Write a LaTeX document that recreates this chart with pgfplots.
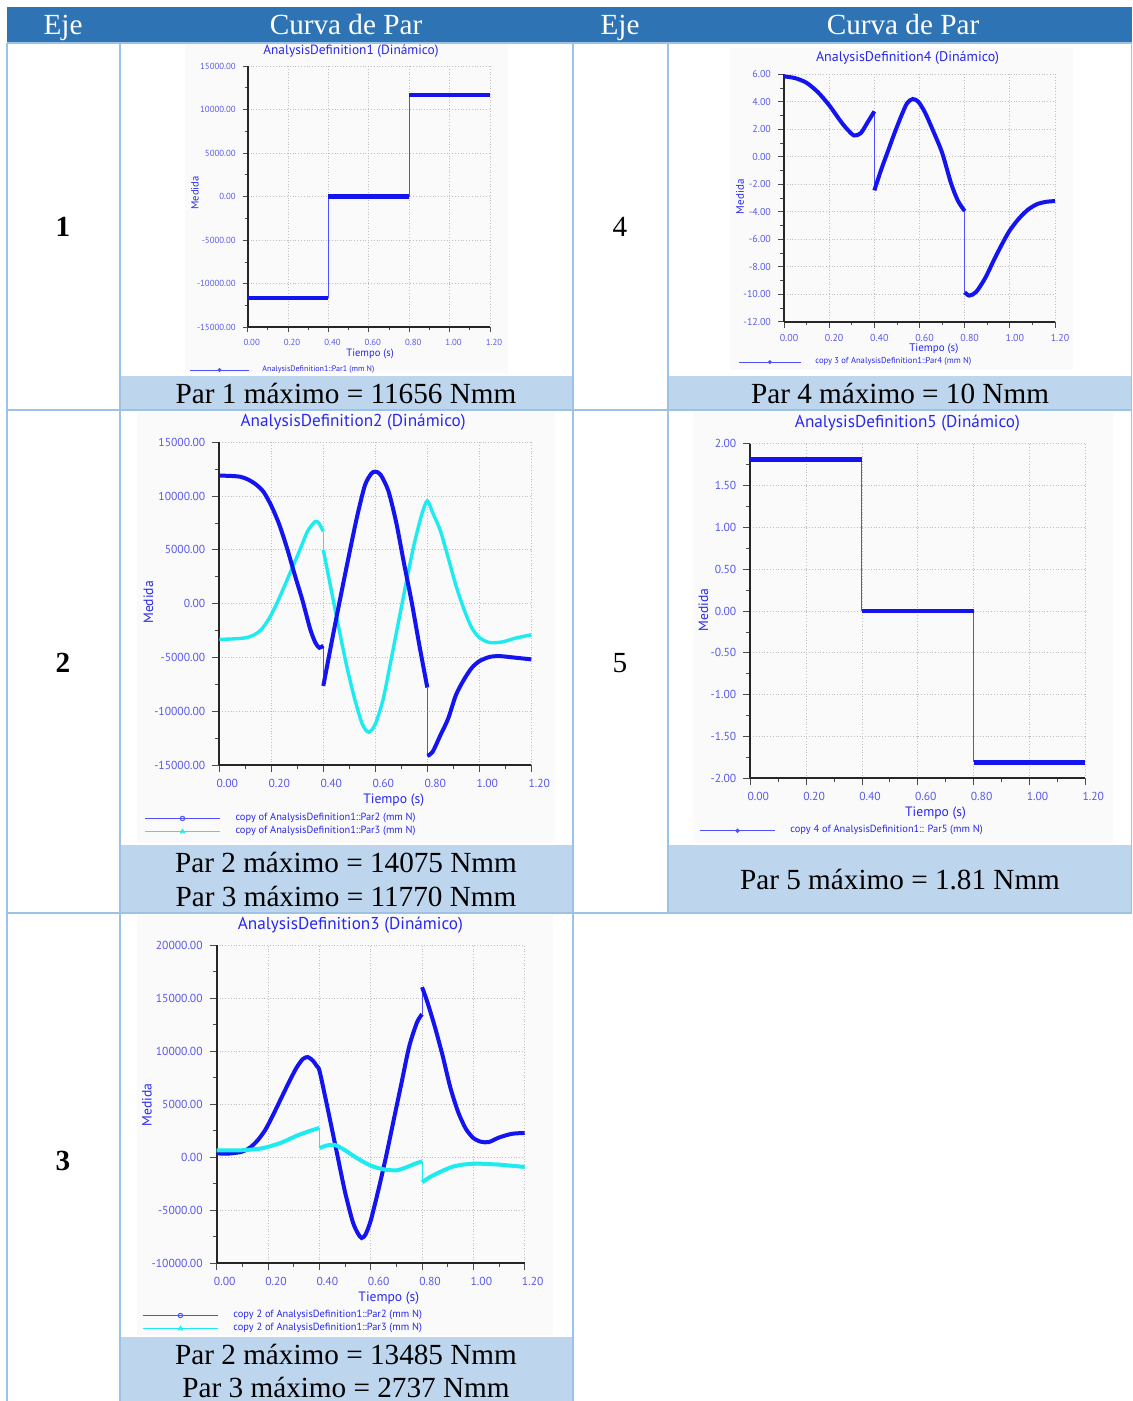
\documentclass[border=0pt]{standalone}
\usepackage{fontspec}
\setmainfont{Liberation Serif}
\newfontfamily\cf{PT Sans}
\usepackage{pgfplots}
\pgfplotsset{compat=1.18}
\definecolor{hdr}{HTML}{2E74B5}
\definecolor{capc}{HTML}{BDD6EE}
\definecolor{bord}{HTML}{9CC2E5}
\definecolor{pblue}{RGB}{20,20,240}
\definecolor{pthin}{RGB}{80,80,255}
\definecolor{pcyan}{RGB}{30,235,240}
\definecolor{titc}{RGB}{40,40,240}
\definecolor{tickc}{RGB}{90,90,235}
\definecolor{chbg}{RGB}{250,250,250}
\pgfplotsset{
  chart/.style={
    scale only axis, clip=false,
    axis lines*=left,
    axis line style={line width=0.9pt, black!85},
    tick align=outside,
    major tick length=3.5pt, minor tick length=2pt,
    tick style={black!70, line width=0.4pt},
    grid=major,
    major grid style={densely dotted, black!25, line width=0.4pt},
    xmin=0, xmax=1.2, xtick={0,0.2,0.4,0.6,0.8,1.0,1.2},
    minor x tick num=1, minor y tick num=1,
    scaled ticks=false,
    /pgf/number format/fixed, /pgf/number format/fixed zerofill,
    /pgf/number format/precision=2, /pgf/number format/1000 sep={},
    /pgf/number format/assume math mode=true,
    tick label style={text=tickc},
    every axis title/.style={text=titc, anchor=center},
    label style={text=titc},
    xlabel={Tiempo (s)}, ylabel={Medida},
    legend cell align=left,
    legend style={draw=none, fill=none, text=titc, inner sep=0pt, row sep=-2.6pt, anchor=north west},
  },
  big/.style={
    title style={font=\cf\fontsize{8.6}{10}\selectfont},
    tick label style={font=\cf\fontsize{5.8}{7}\selectfont},
    xticklabel style={xshift=4pt},
    label style={font=\cf\fontsize{6.8}{8}\selectfont},
    legend style={font=\cf\fontsize{5.2}{6.5}\selectfont},
    legend image code/.code={\draw[##1,mark repeat=2,mark phase=2] plot coordinates {(0pt,0pt)(18.75pt,0pt)(37.5pt,0pt)}; \path (43pt,0pt);},
  },
  thk/.style={pblue, line width=2.2pt, forget plot},
  thn/.style={pthin, line width=0.5pt, forget plot},
  cur/.style={pblue, line width=2pt, smooth, tension=0.45, forget plot},
  cyc/.style={pcyan, line width=1.7pt, smooth, tension=0.45, forget plot},
}
\begin{document}
\begin{tikzpicture}
\begin{scope}[x=0.5pt,y=-0.5pt]
\path[use as bounding box] (0,0) rectangle (1132,1401);
\fill[white] (0,0) rectangle (1132,1401);
% header
\fill[hdr] (7,7) rectangle (1132,43);
% caption bands
\fill[capc] (120,376) rectangle (573,410);
\fill[capc] (668,376) rectangle (1132,410);
\fill[capc] (120,845) rectangle (573,913);
\fill[capc] (668,845) rectangle (1132,913);
\fill[capc] (120,1337) rectangle (573,1401);
% chart backgrounds
\fill[chbg] (185,43) rectangle (508,373);
\fill[chbg] (730,48) rectangle (1073,370);
\fill[chbg] (137,412) rectangle (555,843);
\fill[chbg] (693,412) rectangle (1113,843);
\fill[chbg] (137,915) rectangle (553,1335);
% borders
\draw[bord, line width=0.9pt] (7,43) -- (7,1401);
\draw[bord, line width=0.9pt] (120,43) -- (120,1401);
\draw[bord, line width=0.9pt] (573,43) -- (573,1401);
\draw[bord, line width=0.9pt] (668,43) -- (668,913);
\draw[bord, line width=0.9pt] (1131.5,43) -- (1131.5,913);
\draw[bord, line width=0.9pt] (7,43) -- (1132,43);
\draw[bord, line width=0.9pt] (7,410) -- (1132,410);
\draw[bord, line width=0.9pt] (7,913) -- (1132,913);
% header text
\begin{scope}[every node/.style={text=white, font=\fontsize{14.6}{16}\selectfont, anchor=base, inner sep=0pt}]
\node at (63,35) {Eje};
\node at (346,35) {Curva de Par};
\node at (620,35) {Eje};
\node at (903,35) {Curva de Par};
\end{scope}
\begin{scope}[every node/.style={text=black, font=\fontsize{14.6}{16}\selectfont, anchor=base, inner sep=0pt}]
\node at (63,237) {\bfseries 1};
\node at (620,237) {4};
\node at (63,672) {\bfseries 2};
\node at (620,672) {5};
\node at (63,1170) {\bfseries 3};
\node at (346,403) {Par 1 máximo = 11656 Nmm};
\node at (900,403) {Par 4 máximo = 10 Nmm};
\node at (346,872) {Par 2 máximo = 14075 Nmm};
\node at (346,906) {Par 3 máximo = 11770 Nmm};
\node at (900,889) {Par 5 máximo = 1.81 Nmm};
\node at (346,1364) {Par 2 máximo = 13485 Nmm};
\node at (346,1397) {Par 3 máximo = 2737 Nmm};
\end{scope}
\end{scope}

% ---------- Chart 1 ----------
\begin{axis}[chart,
  at={(123.85pt,-163.65pt)}, anchor=south west,
  width=121.15pt, height=130.65pt,
  ymin=-15000, ymax=15000, ytick={-15000,-10000,-5000,0,5000,10000,15000},
  title={AnalysisDefinition1 (Dinámico)},
  title style={at={(axis description cs:0.426,1.055)}, anchor=center, font=\cf\fontsize{6.7}{8}\selectfont},
  tick label style={font=\cf\fontsize{4.4}{5}\selectfont},
  xticklabel style={xshift=2pt},
  label style={font=\cf\fontsize{5.3}{6}\selectfont},
  xlabel style={at={(axis description cs:0.505,-0.102)}, anchor=center},
  ylabel style={at={(axis description cs:-0.2175,0.514)}, anchor=center},
  major tick length=2.5pt, minor tick length=1.5pt,
  legend style={font=\cf\fontsize{4}{5}\selectfont, at={(axis description cs:-0.242,-0.13)}},
  legend image code/.code={\draw[#1,mark repeat=2,mark phase=2] plot coordinates {(0pt,0pt)(14.75pt,0pt)(29.5pt,0pt)}; \path (34pt,0pt);},
]
\addplot[thn] coordinates {(0.4,-11656)(0.4,0)};
\addplot[thn] coordinates {(0.8,0)(0.8,11656)};
\addplot[thk] coordinates {(0,-11656)(0.4,-11656)};
\addplot[thk] coordinates {(0.4,0)(0.8,0)};
\addplot[thk] coordinates {(0.8,11656)(1.2,11656)};
\addlegendimage{pthin, line width=0.5pt, mark=*, mark size=0.7pt}
\addlegendentry{AnalysisDefinition1::Par1 (mm N)}
\end{axis}

% ---------- Chart 4 ----------
\begin{axis}[chart,
  at={(392pt,-160.85pt)}, anchor=south west,
  width=135.5pt, height=123.7pt,
  ymin=-12, ymax=6, ytick={-12,-10,-8,-6,-4,-2,0,2,4,6},
  title={AnalysisDefinition4 (Dinámico)},
  title style={at={(axis description cs:0.456,1.067)}, anchor=center, font=\cf\fontsize{7}{8}\selectfont},
  tick label style={font=\cf\fontsize{5}{6}\selectfont},
  xticklabel style={xshift=2.5pt},
  label style={font=\cf\fontsize{5.5}{6.5}\selectfont},
  xlabel style={at={(axis description cs:0.553,-0.110)}, anchor=center},
  ylabel style={at={(axis description cs:-0.162,0.505)}, anchor=center},
  major tick length=3pt, minor tick length=1.8pt,
  legend style={font=\cf\fontsize{4.3}{5.2}\selectfont, at={(axis description cs:-0.170,-0.127)}},
  legend image code/.code={\draw[#1,mark repeat=2,mark phase=2] plot coordinates {(0pt,0pt)(15.5pt,0pt)(31pt,0pt)}; \path (36pt,0pt);},
]
\addplot[thn] coordinates {(0.4,3.3)(0.4,-2.45)};
\addplot[thn] coordinates {(0.8,-3.95)(0.8,-9.85)};
\addplot[cur] coordinates {(0,5.85)(0.05,5.72)(0.1,5.38)(0.15,4.7)(0.2,3.75)(0.25,2.6)(0.28,2.0)(0.31,1.55)(0.34,1.72)(0.37,2.5)(0.4,3.3)};
\addplot[cur] coordinates {(0.4,-2.45)(0.43,-0.95)(0.46,0.4)(0.49,1.75)(0.52,3.0)(0.545,3.9)(0.57,4.2)(0.595,4.0)(0.625,3.2)(0.66,1.9)(0.7,0.3)(0.74,-1.95)(0.77,-3.2)(0.8,-3.95)};
\addplot[cur] coordinates {(0.8,-9.85)(0.82,-10.1)(0.85,-9.85)(0.89,-8.85)(0.93,-7.5)(0.964,-6.4)(1.0,-5.35)(1.04,-4.5)(1.08,-3.85)(1.12,-3.45)(1.16,-3.28)(1.2,-3.22)};
\addlegendimage{pthin, line width=0.5pt, mark=*, mark size=0.7pt}
\addlegendentry{copy 3 of AnalysisDefinition1::Par4 (mm N)}
\end{axis}

% ---------- Chart 2 ----------
\begin{axis}[chart, big,
  at={(109.65pt,-382.5pt)}, anchor=south west,
  width=156pt, height=161.35pt,
  ymin=-15000, ymax=15000, ytick={-15000,-10000,-5000,0,5000,10000,15000},
  title={AnalysisDefinition2 (Dinámico)},
  title style={at={(axis description cs:0.429,1.063)}, anchor=center},
  xlabel style={at={(axis description cs:0.559,-0.108)}, anchor=center},
  ylabel style={at={(axis description cs:-0.2276,0.504)}, anchor=center},
  legend style={at={(axis description cs:-0.241,-0.136)}},
]
\addplot[thn] coordinates {(0.4,-3900)(0.4,-7650)};
\addplot[thn] coordinates {(0.8,-7800)(0.8,-14150)};
\addplot[thn, pcyan] coordinates {(0.4,6700)(0.4,5000)};
\addplot[cyc] coordinates {(0,-3320)(0.05,-3280)(0.1,-3180)(0.13,-2950)(0.16,-2450)(0.19,-1450)(0.22,-40)(0.25,1600)(0.28,3300)(0.31,5000)(0.34,6750)(0.37,7650)(0.385,7400)(0.4,6700)};
\addplot[cyc] coordinates {(0.4,5000)(0.43,1350)(0.46,-2300)(0.49,-5800)(0.52,-8800)(0.55,-11200)(0.575,-11950)(0.6,-11200)(0.63,-8900)(0.66,-5300)(0.69,-1600)(0.72,2100)(0.75,5600)(0.78,8400)(0.8,9550)(0.82,8500)(0.85,6800)(0.88,4300)(0.91,1700)(0.94,-450)(0.97,-2200)(1.0,-3150)(1.04,-3620)(1.09,-3550)(1.14,-3200)(1.2,-2900)};
\addplot[cur] coordinates {(0,11900)(0.04,11880)(0.08,11800)(0.11,11550)(0.14,11100)(0.17,10400)(0.2,9100)(0.23,7400)(0.26,5200)(0.29,2700)(0.32,300)(0.35,-2400)(0.37,-3650)(0.385,-4100)(0.4,-3900)};
\addplot[cur] coordinates {(0.4,-7650)(0.43,-3850)(0.46,-130)(0.5,4650)(0.53,8100)(0.56,11000)(0.585,12100)(0.6,12270)(0.62,12000)(0.65,10500)(0.68,7600)(0.71,3800)(0.74,140)(0.77,-3940)(0.8,-7800)};
\addplot[cur] coordinates {(0.8,-14150)(0.82,-13800)(0.85,-12250)(0.88,-10700)(0.91,-8500)(0.94,-7100)(0.97,-6000)(1.0,-5350)(1.04,-4950)(1.08,-4880)(1.13,-5000)(1.2,-5180)};
\addlegendimage{pthin, line width=0.5pt, mark=o, mark size=1.1pt}
\addlegendentry{copy of AnalysisDefinition1::Par2 (mm N)}
\addlegendimage{pcyan, line width=0.5pt, mark=triangle, mark size=1.2pt}
\addlegendentry{copy of AnalysisDefinition1::Par3 (mm N)}
\end{axis}

% ---------- Chart 5 ----------
\begin{axis}[chart, big,
  at={(375.15pt,-389.15pt)}, anchor=south west,
  width=167.5pt, height=167.3pt,
  ymin=-2, ymax=2, ytick={-2,-1.5,-1,-0.5,0,0.5,1,1.5,2},
  title={AnalysisDefinition5 (Dinámico)},
  title style={at={(axis description cs:0.469,1.062)}, anchor=center},
  xlabel style={at={(axis description cs:0.553,-0.104)}, anchor=center},
  ylabel style={at={(axis description cs:-0.140,0.503)}, anchor=center},
  legend style={at={(axis description cs:-0.153,-0.128)}},
]
\addplot[thn] coordinates {(0.4,1.81)(0.4,0)};
\addplot[thn] coordinates {(0.8,0)(0.8,-1.81)};
\addplot[thk] coordinates {(0,1.81)(0.4,1.81)};
\addplot[thk] coordinates {(0.4,0)(0.8,0)};
\addplot[thk] coordinates {(0.8,-1.81)(1.2,-1.81)};
\addlegendimage{pthin, line width=0.5pt, mark=*, mark size=0.8pt}
\addlegendentry{copy 4 of AnalysisDefinition1:: Par5 (mm N)}
\end{axis}

% ---------- Chart 3 ----------
\begin{axis}[chart, big,
  at={(108.35pt,-631.5pt)}, anchor=south west,
  width=154pt, height=158.85pt,
  ymin=-10000, ymax=20000, ytick={-10000,-5000,0,5000,10000,15000,20000},
  title={AnalysisDefinition3 (Dinámico)},
  title style={at={(axis description cs:0.434,1.062)}, anchor=center},
  xlabel style={at={(axis description cs:0.559,-0.110)}, anchor=center},
  ylabel style={at={(axis description cs:-0.227,0.498)}, anchor=center},
  legend style={at={(axis description cs:-0.2425,-0.135)}},
]
\addplot[thn] coordinates {(0.8,13500)(0.8,16050)};
\addplot[thn, pcyan] coordinates {(0.4,2750)(0.4,860)};
\addplot[thn, pcyan] coordinates {(0.8,-400)(0.8,-2380)};
\addplot[cur] coordinates {(0,350)(0.05,340)(0.1,520)(0.13,900)(0.16,1600)(0.19,2600)(0.22,4000)(0.25,5500)(0.28,7000)(0.31,8400)(0.335,9250)(0.355,9450)(0.375,9100)(0.39,8600)(0.4,8200)(0.42,6000)(0.44,3700)(0.47,200)(0.5,-3300)(0.53,-6100)(0.55,-7200)(0.565,-7640)(0.58,-7300)(0.6,-6000)(0.63,-3100)(0.66,80)(0.69,3550)(0.72,7000)(0.75,10450)(0.78,12700)(0.8,13500)};
\addplot[cur] coordinates {(0.8,16050)(0.82,14700)(0.85,12300)(0.88,9600)(0.91,6600)(0.94,4300)(0.97,2700)(1.0,1800)(1.03,1450)(1.06,1420)(1.1,1850)(1.15,2200)(1.2,2280)};
\addplot[cyc, line width=2pt] coordinates {(0,640)(0.1,650)(0.18,850)(0.25,1350)(0.31,2000)(0.36,2450)(0.4,2750)};
\addplot[cyc, line width=2pt] coordinates {(0.4,860)(0.43,1100)(0.46,1150)(0.5,650)(0.55,-150)(0.6,-800)(0.65,-1150)(0.7,-1250)(0.74,-950)(0.77,-650)(0.8,-400)};
\addplot[cyc, line width=2pt] coordinates {(0.8,-2380)(0.83,-1900)(0.87,-1400)(0.92,-900)(0.97,-680)(1.02,-620)(1.1,-710)(1.2,-930)};
\addlegendimage{pthin, line width=0.5pt, mark=o, mark size=1.1pt}
\addlegendentry{copy 2 of AnalysisDefinition1::Par2 (mm N)}
\addlegendimage{pcyan, line width=0.5pt, mark=triangle, mark size=1.2pt}
\addlegendentry{copy 2 of AnalysisDefinition1::Par3 (mm N)}
\end{axis}
\end{tikzpicture}
\end{document}
